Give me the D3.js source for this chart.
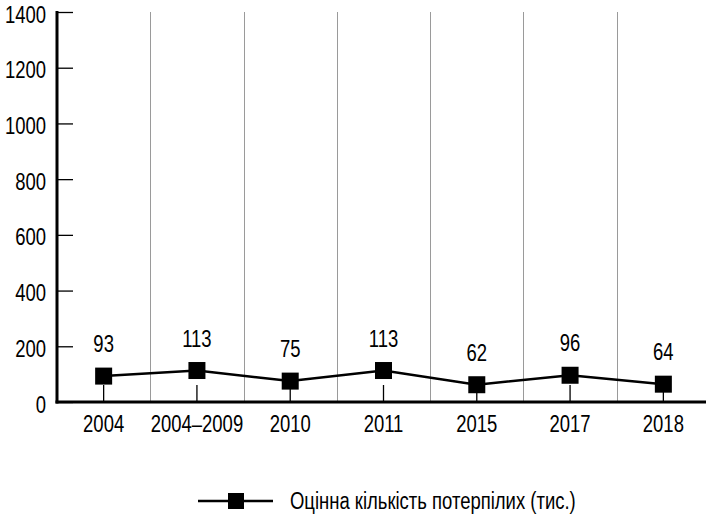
<!DOCTYPE html>
<html>
<head>
<meta charset="utf-8">
<script src="https://cdn.jsdelivr.net/npm/d3@7/dist/d3.min.js"></script>
<style>
  body { margin: 0; background: #fff; }
  text { font-family: "Liberation Sans", Arial, sans-serif; fill: #000; }
</style>
</head>
<body>
<div id="chart-area"></div>
<script>
var years = ["2004", "2004\u20132009", "2010", "2011", "2015", "2017", "2018"];
var victims = [93, 113, 75, 113, 62, 96, 64];
var yTicks = [0, 200, 400, 600, 800, 1000, 1200, 1400];
var seriesName = "Оцінна кількість потерпілих (тис.)";

var W = 706, H = 515;
var margins = { left: 57, right: -4, top: 12, bottom: 113 };
var fontSize = "24px";
var squeeze = 0.77;   // fake a condensed face by scaling x

var data = years.map(function(y, i) { return { year: y, value: victims[i] }; });

var svg = d3.select("#chart-area")
    .append("svg")
    .attr("width", W)
    .attr("height", H);

var x = d3.scaleBand()
    .domain(years)
    .range([margins.left, W - margins.right])
    .padding(0);

var y = d3.scaleLinear()
    .domain([0, 1400])
    .range([H - margins.bottom, margins.top]);

function condense(sel) {
    sel.each(function() {
        var t = d3.select(this);
        var tx = +t.attr("x") || 0;
        t.attr("x", tx / squeeze)
            .attr("transform", "scale(" + squeeze + ",1)")
            .style("font-size", fontSize);
    });
}

// vertical separators between categories
svg.append("g")
    .selectAll("line")
    .data(years.slice(1))
    .enter()
    .append("line")
    .attr("x1", function(d) { return Math.round(x(d)) + 0.5; })
    .attr("x2", function(d) { return Math.round(x(d)) + 0.5; })
    .attr("y1", y(1400))
    .attr("y2", y(0))
    .attr("stroke", "#9a9a9a")
    .attr("stroke-width", 1);

// y axis
var yAxis = svg.append("g")
    .attr("transform", "translate(" + margins.left + ",0)")
    .call(d3.axisLeft(y).tickValues(yTicks).tickSize(-16).tickPadding(11).tickFormat(d3.format("d")));
yAxis.select(".domain").remove();
yAxis.selectAll(".tick line").attr("stroke", "#000").attr("stroke-width", 1.3);
yAxis.selectAll(".tick text").attr("dy", "0.42em").call(condense);
svg.append("line")
    .attr("x1", margins.left).attr("x2", margins.left)
    .attr("y1", y(1400) - 1).attr("y2", y(0) + 1.5)
    .attr("stroke", "#000").attr("stroke-width", 3);

// x axis
var xAxis = svg.append("g")
    .attr("transform", "translate(0," + y(0) + ")")
    .call(d3.axisBottom(x).tickSize(-17));
xAxis.select(".domain").remove();
xAxis.selectAll(".tick line").attr("stroke", "#000").attr("stroke-width", 1.3);
xAxis.selectAll(".tick text").attr("y", 30).attr("dy", 0).call(condense);
svg.append("line")
    .attr("x1", margins.left - 1.5).attr("x2", W)
    .attr("y1", y(0)).attr("y2", y(0))
    .attr("stroke", "#000").attr("stroke-width", 3);

// series line
var line = d3.line()
    .x(function(d) { return x(d.year) + x.bandwidth() / 2; })
    .y(function(d) { return y(d.value); });

svg.append("path")
    .datum(data)
    .attr("d", line)
    .attr("fill", "none")
    .attr("stroke", "#000")
    .attr("stroke-width", 2.5);

var sq = 17;
svg.selectAll(".marker")
    .data(data)
    .enter()
    .append("rect")
    .attr("class", "marker")
    .attr("x", function(d) { return x(d.year) + x.bandwidth() / 2 - sq / 2; })
    .attr("y", function(d) { return y(d.value) - sq / 2; })
    .attr("width", sq)
    .attr("height", sq)
    .attr("fill", "#000");

// value labels
svg.selectAll(".val")
    .data(data)
    .enter()
    .append("text")
    .attr("class", "val")
    .attr("x", function(d) { return x(d.year) + x.bandwidth() / 2; })
    .attr("y", function(d) { return y(d.value) - 24; })
    .attr("text-anchor", "middle")
    .text(function(d) { return d.value; })
    .call(condense);

// legend
var legend = svg.append("g").attr("transform", "translate(198,501)");
legend.append("line")
    .attr("x1", 0).attr("x2", 75)
    .attr("y1", 0).attr("y2", 0)
    .attr("stroke", "#000").attr("stroke-width", 2.5);
legend.append("rect")
    .attr("x", 30).attr("y", -8)
    .attr("width", 16).attr("height", 16)
    .attr("fill", "#000");
legend.append("text")
    .attr("x", 92).attr("y", 8)
    .text(seriesName)
    .call(condense);
</script>
</body>
</html>
